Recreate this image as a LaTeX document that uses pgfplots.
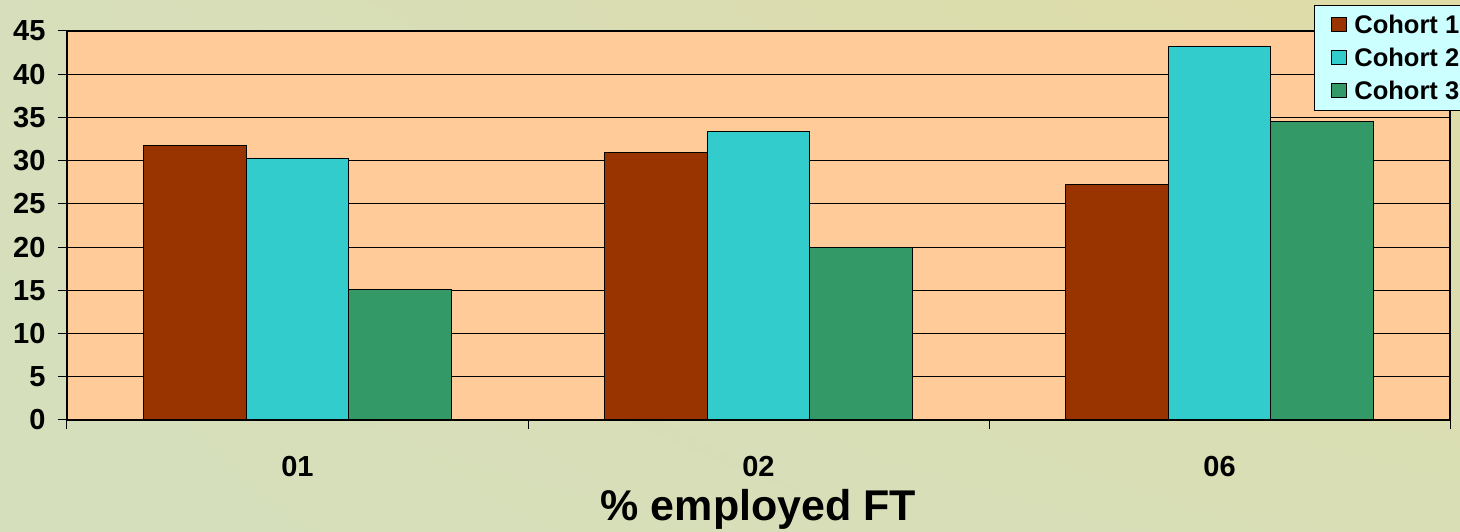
\documentclass[border=0pt]{standalone}
\usepackage{pgfplots}
\pgfplotsset{compat=1.18}
\usetikzlibrary{shadings}
\usepackage{fontspec}
\setmainfont{Liberation Sans}

\definecolor{cohortA}{HTML}{993300}
\definecolor{cohortB}{HTML}{33CCCC}
\definecolor{cohortC}{HTML}{339966}
\definecolor{plotbg}{HTML}{FFCC99}
\definecolor{legbg}{HTML}{CCFFFF}
\definecolor{bgUL}{HTML}{D6DEBB}
\definecolor{bgUR}{HTML}{DFDCA6}
\definecolor{bgLL}{HTML}{D5DFBC}
\definecolor{bgLR}{HTML}{D9DEB5}

\begin{document}
\begin{tikzpicture}[x=1pt,y=1pt]
\clip (-67,-112) rectangle (1393,420);
\shade[upper left=bgUL, upper right=bgUR, lower left=bgLL, lower right=bgLR]
  (-67,-112) rectangle (1393,420);
\begin{axis}[
  scale only axis, width=1383pt, height=389pt,
  at={(0,0)}, anchor=south west,
  axis background/.style={fill=plotbg},
  xmin=-0.5, xmax=2.5, ymin=0, ymax=45,
  ytick={0,5,...,45},
  xtick={0,1,2}, xticklabels={01,02,06},
  minor xtick={-0.5,0.5,1.5,2.5},
  major x tick style={draw=none},
  xtick pos=bottom, ytick pos=left,
  tick align=outside,
  major tick length=9pt, minor tick length=9pt,
  tick style={black, line width=1pt},
  ymajorgrids,
  grid style={black, line width=1pt},
  axis line style={black, line width=1.2pt},
  /pgf/number format/assume math mode=true,
  ticklabel style={font=\fontsize{29}{34}\selectfont\bfseries},
  yticklabel style={anchor=east, xshift=-9pt},
  xticklabel style={anchor=base, yshift=-48pt},
  xlabel={\% employed FT},
  xlabel style={font=\fontsize{43}{50}\selectfont\bfseries,
    at={(axis description cs:0.5,-0.259)}, anchor=base},
  ybar, bar width=0.2233,
  every axis plot/.append style={draw=black, line width=1pt},
  legend style={at={(axis description cs:0.9016,1.0668)}, anchor=north west,
    fill=legbg, draw=black, line width=1pt,
    font=\fontsize{25.5}{29}\selectfont\bfseries,
    row sep=9pt, inner xsep=6pt, inner ysep=7.5pt},
  legend cell align=left,
  legend image code/.code={%
    \path[draw=none, fill=none] (0pt,0pt) -- (32pt,0pt);
    \draw[#1,/tikz/.cd,line width=1pt] (11pt,-7pt) rectangle (26pt,7pt);},
]
\addplot[fill=cohortA, bar shift=-0.2233] coordinates {(0,31.8) (1,31.0) (2,27.2)};
\addplot[fill=cohortB, bar shift=0] coordinates {(0,30.2) (1,33.4) (2,43.2)};
\addplot[fill=cohortC, bar shift=0.2233] coordinates {(0,15.1) (1,19.9) (2,34.5)};
\legend{Cohort 1, Cohort 2, Cohort 3}
\end{axis}
\end{tikzpicture}
\end{document}
